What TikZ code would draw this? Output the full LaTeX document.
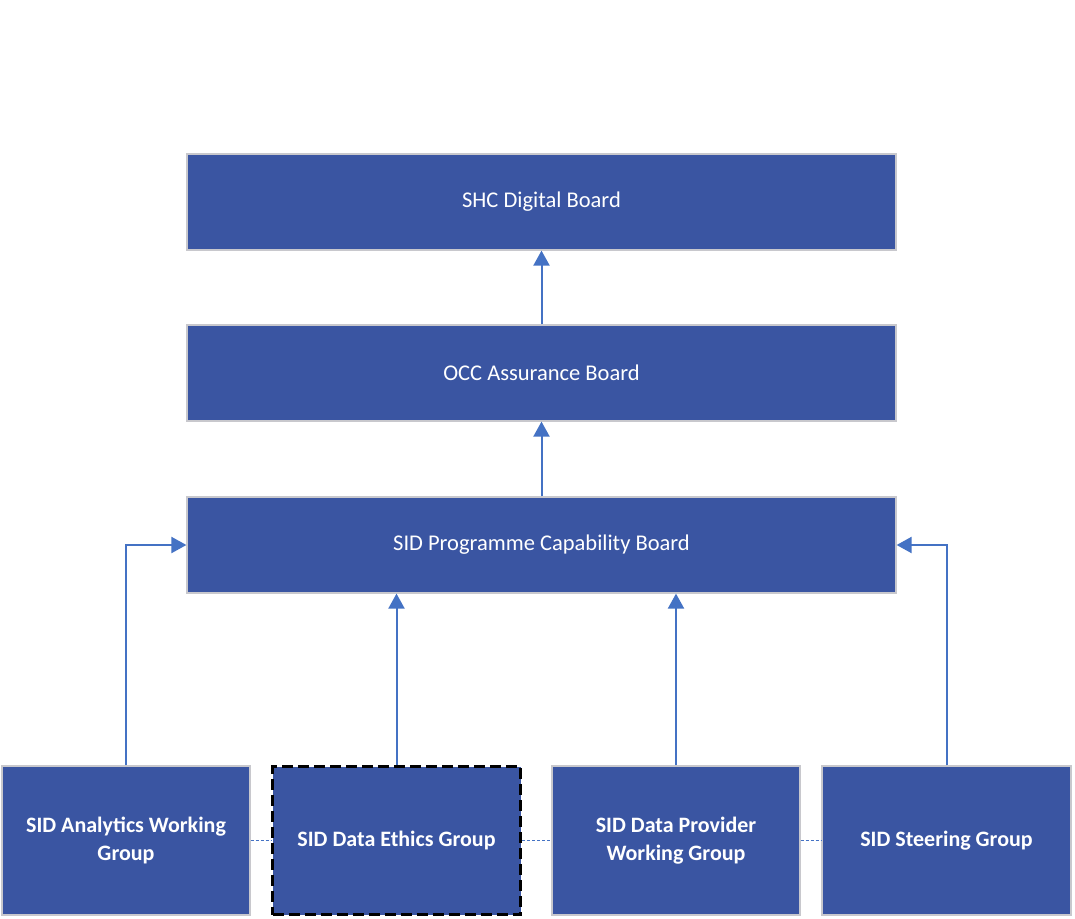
\documentclass[tikz,border=0pt]{standalone}
\usepackage{fontspec}
\setmainfont{Carlito}
\usetikzlibrary{arrows.meta}
\definecolor{boxblue}{RGB}{58,85,162}
\definecolor{lineblue}{RGB}{68,114,196}
\definecolor{edgegray}{RGB}{200,200,205}
\begin{document}
\begin{tikzpicture}[x=1pt,y=-1pt,
  board/.style={draw=edgegray, line width=1.2pt, fill=boxblue, text=white, inner sep=0pt,
    font=\fontsize{22.5}{27}\selectfont},
  group/.style={draw=edgegray, line width=1.2pt, fill=boxblue, text=white, inner sep=0pt,
    align=center, font=\fontsize{22}{28}\selectfont\bfseries},
  arr/.style={draw=lineblue, line width=2pt, -{Triangle[length=15pt,width=16pt]}},
  dotline/.style={draw=lineblue, line width=1.3pt, dash pattern=on 3pt off 2pt}]
\useasboundingbox (0,0) rectangle (1075,918);
\fill[white] (0,0) rectangle (1075,918);
\node[board, minimum width=709pt, minimum height=96pt] (shc) at (541.5,202) {SHC Digital Board};
\node[board, minimum width=709pt, minimum height=96pt] (occ) at (541.5,373) {OCC Assurance Board};
\node[board, minimum width=709pt, minimum height=96pt] (sid) at (541.5,545) {SID Programme Capability Board};
\node[group, minimum width=248pt, minimum height=149pt] (ana) at (126,840.5) {SID Analytics Working\\Group};
\node[group, minimum width=248pt, minimum height=148pt, draw=black, dash pattern=on 11pt off 5pt, line width=3pt] (eth) at (396.5,840.5) {SID Data Ethics Group};
\node[group, minimum width=248pt, minimum height=149pt] (prov) at (676,840.5) {SID Data Provider\\Working Group};
\node[group, minimum width=249pt, minimum height=149pt] (steer) at (946.5,840.5) {SID Steering Group};
\draw[arr] (occ.north) -- (shc.south);
\draw[arr] (sid.north) -- (occ.south);
\draw[arr] (ana.north) |- (sid.west);
\draw[arr] (steer.north) |- (sid.east);
\draw[arr] (eth.north) -- (eth.north |- sid.south);
\draw[arr] (prov.north) -- (prov.north |- sid.south);
\draw[dotline] (ana.east) -- (eth.west);
\draw[dotline] (eth.east) -- (prov.west);
\draw[dotline] (prov.east) -- (steer.west);
\end{tikzpicture}
\end{document}
